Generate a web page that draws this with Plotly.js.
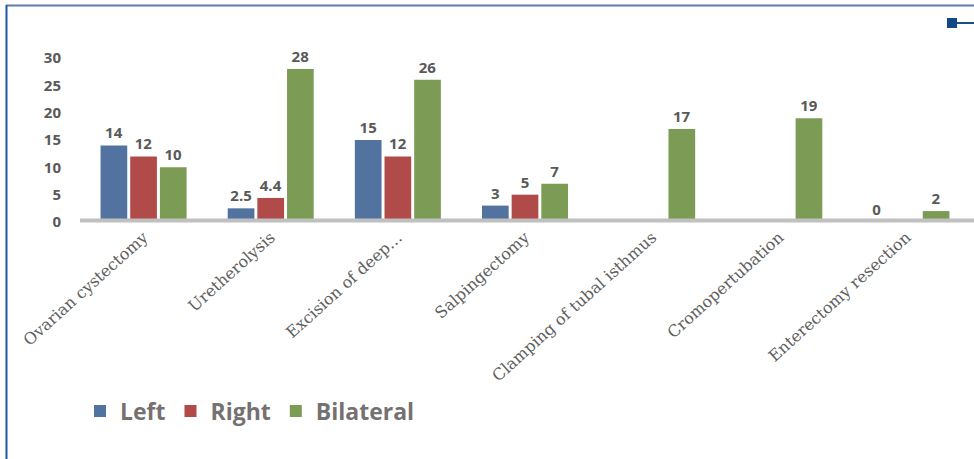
<!DOCTYPE html>
<html>
<head>
<meta charset="utf-8">
<script src="https://cdn.plot.ly/plotly-3.0.1.min.js"></script>
<style>
html,body{margin:0;padding:0;background:#fff;}
#chart{width:974px;height:459px;}
</style>
</head>
<body>
<div id="chart"></div>
<script>
// ---- data ----
const categories = ["Ovarian cystectomy", "Uretherolysis", "Excision of deep\u2026", "Salpingectomy",
                    "Clamping of tubal isthmus", "Cromopertubation", "Enterectomy resection"];
const leftValues      = [14, 2.5, 15, 3, null, null, 0];
const rightValues     = [12, 4.4, 12, 5, null, null, null];
const bilateralValues = [10, 28, 26, 7, 17, 19, 2];
const yTicks = [0, 5, 10, 15, 20, 25, 30];

// ---- layout geometry (pixels) ----
const W = 974, H = 459;
const L = 80, R = 970, T = 58, B = 222;
const pw = R - L, ph = B - T;
const px = v => (v - L) / pw;
const py = v => (B - v) / ph;

const labelFont = {family: "Open Sans, sans-serif", size: 15, color: "#595959", weight: "bold"};

function series(name, vals, color) {
  return {
    type: "bar", name: name, x: categories, y: vals,
    marker: {color: color, line: {width: 0}},
    text: vals.map(v => v === null ? "" : String(v)),
    textposition: "outside",
    textfont: labelFont,
    cliponaxis: false,
    hoverinfo: "skip"
  };
}

const data = [
  series("Left", leftValues, "#52739f"),
  series("Right", rightValues, "#b04b4a"),
  series("Bilateral", bilateralValues, "#7c9c55")
];

const layout = {
  width: W, height: H,
  margin: {l: L, r: W - R, t: T, b: H - B, pad: 0},
  paper_bgcolor: "#ffffff", plot_bgcolor: "#ffffff",
  barmode: "group", bargap: 0.3, bargroupgap: 0.1,
  showlegend: true,
  legend: {
    orientation: "h", xref: "container", yref: "container",
    x: 80 / W, y: 1 - 411 / H, xanchor: "left", yanchor: "middle",
    font: {family: "Open Sans, sans-serif", size: 23, color: "#767171", weight: "bold"},
    itemwidth: 30, traceorder: "normal", bgcolor: "rgba(0,0,0,0)"
  },
  xaxis: {
    type: "category", showgrid: false, zeroline: false,
    showline: false,
    ticks: "", tickangle: -42, ticklabelstandoff: 2,
    tickfont: {family: "DejaVu Serif, serif", size: 16, color: "#606060"},
    fixedrange: true
  },
  yaxis: {
    range: [0, 30], tickvals: yTicks, ticktext: yTicks.map(String),
    showgrid: false, zeroline: false, showline: false, ticks: "",
    ticklabelstandoff: 18,
    tickfont: labelFont, fixedrange: true
  },
  shapes: [
    // category axis line (grey, thick) running to the right edge
    {type: "line", xref: "paper", yref: "paper", x0: px(L), x1: px(W + 2), y0: py(220.5), y1: py(220.5),
     line: {color: "#c0c0c0", width: 4}, layer: "above"},
    // outer frame: top and left edges
    {type: "line", xref: "paper", yref: "paper", x0: px(6), x1: px(W + 2), y0: py(5.5), y1: py(5.5),
     line: {color: "#5b7fa6", width: 2}},
    {type: "line", xref: "paper", yref: "paper", x0: px(6.5), x1: px(6.5), y0: py(5), y1: py(H + 2),
     line: {color: "#1f5aa0", width: 2}},
    // top-right marker
    {type: "line", xref: "paper", yref: "paper", x0: px(952), x1: px(W + 2), y0: py(23), y1: py(23),
     line: {color: "#1f4e85", width: 2}},
    {type: "rect", xref: "paper", yref: "paper", x0: px(947), x1: px(957), y0: py(28), y1: py(18),
     fillcolor: "#0f4a85", line: {width: 0}}
  ]
};

Plotly.newPlot("chart", data, layout, {displayModeBar: false, staticPlot: true});
</script>
</body>
</html>
